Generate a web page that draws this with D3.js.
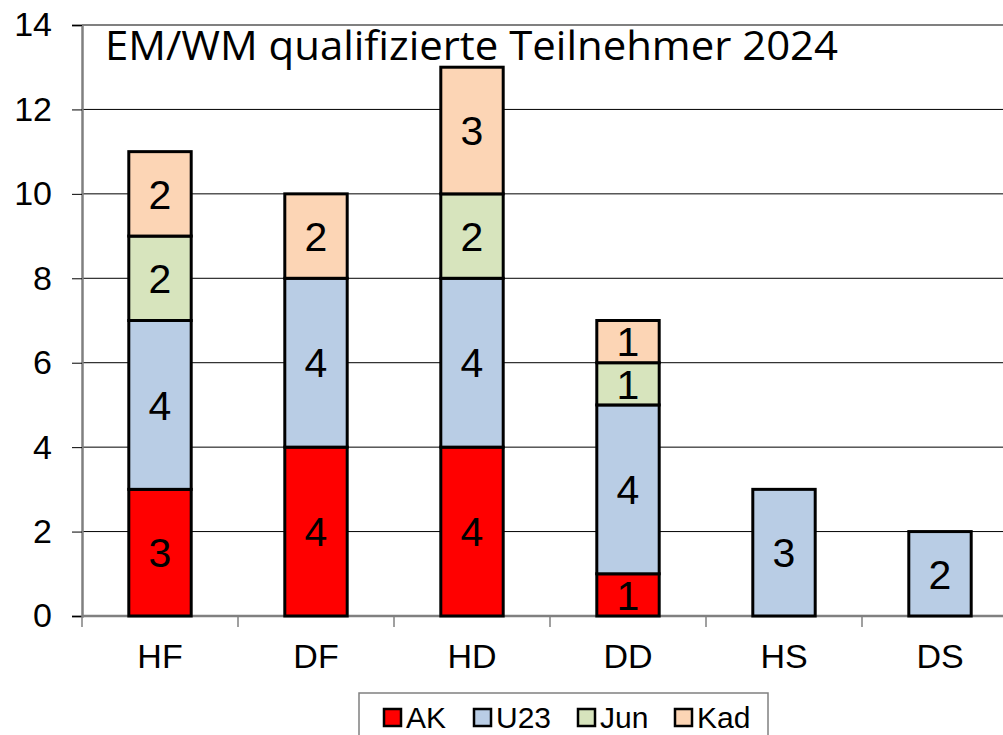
<!DOCTYPE html>
<html>
<head>
  <meta charset="UTF-8">
  <style>
    body { margin: 0; background: #fff; }
    svg { display: block; font-family: "Liberation Sans", Arial, sans-serif; }
  </style>
  <script src="https://d3js.org/d3.v7.min.js"></script>
</head>
<body>
  <svg id="chart" width="1003" height="735"></svg>
  <script>
    // data
    const categories = ["HF", "DF", "HD", "DD", "HS", "DS"];
    const seriesNames = ["AK", "U23", "Jun", "Kad"];
    const AK  = [3, 4, 4, 1, 0, 0];
    const U23 = [4, 4, 4, 4, 3, 2];
    const Jun = [2, 0, 2, 1, 0, 0];
    const Kad = [2, 2, 3, 1, 0, 0];
    const yTicks = [0, 2, 4, 6, 8, 10, 12, 14];
    const colors = ["#ff0000", "#b9cde5", "#d7e4bd", "#fcd5b5"];

    let width = 1003, height = 735;
    let plotLeft = 82, plotTop = 25, plotBottom = 616;

    let svg = d3.select("#chart");

    let rows = categories.map((c, i) => ({ cat: c, AK: AK[i], U23: U23[i], Jun: Jun[i], Kad: Kad[i] }));
    let stacked = d3.stack().keys(seriesNames)(rows);

    let x = d3.scaleBand().domain(categories).range([plotLeft, plotLeft + 156 * 6]).paddingInner(0.6).paddingOuter(0.3);
    let y = d3.scaleLinear().domain([0, 14]).range([plotBottom, plotTop]);

    // gridlines
    svg.append("g")
      .selectAll("line")
      .data(yTicks.filter(t => t > 0 && t < 14))
      .enter().append("line")
      .attr("x1", plotLeft).attr("x2", width)
      .attr("y1", d => y(d)).attr("y2", d => y(d))
      .attr("stroke", "#000").attr("stroke-width", 1);

    // top border of plot area
    svg.append("line")
      .attr("x1", plotLeft).attr("x2", width)
      .attr("y1", y(14)).attr("y2", y(14))
      .attr("stroke", "#808080").attr("stroke-width", 2);

    // y axis
    let yAxis = svg.append("g")
      .attr("transform", "translate(" + plotLeft + ",0)")
      .call(d3.axisLeft(y).tickValues(yTicks).tickSize(10).tickPadding(20));
    yAxis.select(".domain").attr("stroke", "#808080").attr("stroke-width", 2.5);
    yAxis.selectAll(".tick line").attr("stroke", "#000").attr("stroke-width", 1);
    yAxis.selectAll(".tick text")
      .attr("font-size", 34).attr("fill", "#000")
      .attr("font-family", "Liberation Sans, Arial, sans-serif");

    // x axis (ticks at category boundaries)
    let xg = svg.append("g").attr("transform", "translate(0," + plotBottom + ")");
    xg.append("line")
      .attr("x1", plotLeft).attr("x2", width).attr("y1", 0).attr("y2", 0)
      .attr("stroke", "#808080").attr("stroke-width", 2.5);
    xg.selectAll("line.tk")
      .data(d3.range(0, 7))
      .enter().append("line")
      .attr("class", "tk")
      .attr("x1", i => plotLeft + 156 * i).attr("x2", i => plotLeft + 156 * i)
      .attr("y1", 0).attr("y2", 11)
      .attr("stroke", "#808080").attr("stroke-width", 1.5);
    xg.selectAll("text")
      .data(categories)
      .enter().append("text")
      .attr("x", d => x(d) + x.bandwidth() / 2)
      .attr("y", 52)
      .attr("text-anchor", "middle")
      .attr("font-size", 34)
      .text(d => d);

    // bars
    let layers = svg.append("g").selectAll("g")
      .data(stacked)
      .enter().append("g")
      .attr("fill", (d, i) => colors[i]);

    layers.selectAll("rect")
      .data(d => d.filter(s => s[1] - s[0] > 0))
      .enter().append("rect")
      .attr("x", d => x(d.data.cat))
      .attr("width", x.bandwidth())
      .attr("y", d => y(d[1]))
      .attr("height", d => y(d[0]) - y(d[1]))
      .attr("stroke", "#000")
      .attr("stroke-width", 3);

    layers.selectAll("text")
      .data(d => d.filter(s => s[1] - s[0] > 0))
      .enter().append("text")
      .attr("x", d => x(d.data.cat) + x.bandwidth() / 2)
      .attr("y", d => (y(d[0]) + y(d[1])) / 2)
      .attr("dy", "0.36em")
      .attr("text-anchor", "middle")
      .attr("font-size", 41)
      .attr("fill", "#000")
      .text(d => d[1] - d[0]);

    // title
    svg.append("text")
      .attr("x", 105).attr("y", 60)
      .attr("font-family", "Open Sans, Noto Sans, sans-serif")
      .attr("font-size", 40)
      .attr("textLength", 733)
      .attr("lengthAdjust", "spacingAndGlyphs")
      .text("EM/WM qualifizierte Teilnehmer 2024");

    // legend
    let lg = svg.append("g");
    lg.append("rect")
      .attr("x", 359).attr("y", 693).attr("width", 409).attr("height", 60)
      .attr("fill", "#fff").attr("stroke", "#808080").attr("stroke-width", 1.5);
    let itemX = [384, 474, 578, 675];
    seriesNames.forEach((s, i) => {
      lg.append("rect")
        .attr("x", itemX[i]).attr("y", 709).attr("width", 17).attr("height", 17)
        .attr("fill", colors[i]).attr("stroke", "#000").attr("stroke-width", 2.5);
      lg.append("text")
        .attr("x", itemX[i] + 22).attr("y", 728)
        .attr("font-size", 30)
        .text(s);
    });
  </script>
</body>
</html>
